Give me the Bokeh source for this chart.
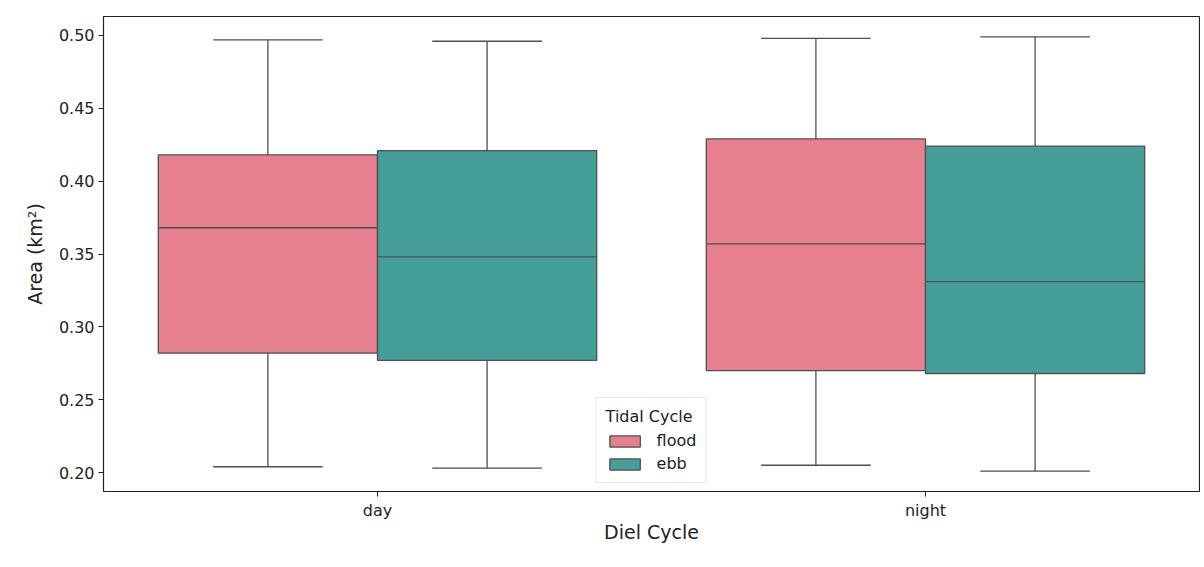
from bokeh.plotting import figure
from bokeh.models import FactorRange, ColumnDataSource, NumeralTickFormatter, FixedTicker, Legend, LegendItem
from bokeh.transform import dodge
from bokeh.embed import file_html
from bokeh.resources import INLINE

# ---- data ----
diel = ["day", "night"]
tides = ["flood", "ebb"]
colors = ["#e6808f", "#469e99"]

flood_low = [0.204, 0.205]
flood_q1 = [0.282, 0.270]
flood_med = [0.368, 0.357]
flood_q3 = [0.418, 0.429]
flood_high = [0.497, 0.498]

ebb_low = [0.203, 0.201]
ebb_q1 = [0.277, 0.268]
ebb_med = [0.348, 0.331]
ebb_q3 = [0.421, 0.424]
ebb_high = [0.496, 0.499]

y_ticks = [0.20, 0.25, 0.30, 0.35, 0.40, 0.45, 0.50]

FONT = "DejaVu Sans"
LINE = "#4f4f4f"

p = figure(x_range=FactorRange(*diel, range_padding=0), y_range=(0.187, 0.513),
           width=1200, height=559, output_backend="svg", toolbar_location=None,
           min_border_left=103, min_border_right=1, min_border_top=16, min_border_bottom=68)

p.xgrid.visible = False
p.ygrid.visible = False
p.outline_line_color = "#222222"
p.outline_line_width = 1.2
p.background_fill_color = "white"
p.border_fill_color = "white"

series = [
    ("flood", -0.2, colors[0], flood_low, flood_q1, flood_med, flood_q3, flood_high),
    ("ebb", 0.2, colors[1], ebb_low, ebb_q1, ebb_med, ebb_q3, ebb_high),
]

items = []
for name, off, col, lo, q1, med, q3, hi in series:
    src = ColumnDataSource(dict(diel=diel, lo=lo, q1=q1, med=med, q3=q3, hi=hi))
    # whiskers
    p.segment(x0=dodge("diel", off, range=p.x_range), x1=dodge("diel", off, range=p.x_range),
              y0="q3", y1="hi", source=src, line_color=LINE, line_width=1.3)
    p.segment(x0=dodge("diel", off, range=p.x_range), x1=dodge("diel", off, range=p.x_range),
              y0="lo", y1="q1", source=src, line_color=LINE, line_width=1.3)
    # caps
    p.segment(x0=dodge("diel", off - 0.1, range=p.x_range), x1=dodge("diel", off + 0.1, range=p.x_range),
              y0="hi", y1="hi", source=src, line_color=LINE, line_width=1.3)
    p.segment(x0=dodge("diel", off - 0.1, range=p.x_range), x1=dodge("diel", off + 0.1, range=p.x_range),
              y0="lo", y1="lo", source=src, line_color=LINE, line_width=1.3)
    # box
    r = p.vbar(x=dodge("diel", off, range=p.x_range), width=0.4, bottom="q1", top="q3",
               source=src, fill_color=col, line_color=LINE, line_width=1.3)
    # median
    p.segment(x0=dodge("diel", off - 0.2, range=p.x_range), x1=dodge("diel", off + 0.2, range=p.x_range),
              y0="med", y1="med", source=src, line_color=LINE, line_width=1.3)
    items.append(LegendItem(label=name, renderers=[r]))

p.yaxis.ticker = FixedTicker(ticks=y_ticks)
p.yaxis.formatter = NumeralTickFormatter(format="0.00")
for ax in (p.xaxis[0], p.yaxis[0]):
    ax.major_label_text_font = FONT
    ax.major_label_text_font_size = "16px"
    ax.major_label_text_color = "#222222"
    ax.axis_label_text_font = FONT
    ax.axis_label_text_font_size = "19px"
    ax.axis_label_text_font_style = "normal"
    ax.axis_label_text_color = "#222222"
    ax.axis_line_color = None
    ax.major_tick_line_color = "#222222"
    ax.major_tick_out = 5
    ax.major_tick_in = 0
    ax.minor_tick_line_color = None
    ax.major_label_standoff = 4

p.xaxis.axis_label = "Diel Cycle"
p.yaxis.axis_label = "Area (km²)"
p.xaxis.axis_label_standoff = -2
p.yaxis.axis_label_standoff = 10

legend = Legend(items=items, location="bottom_center", title="Tidal Cycle")
legend.title_text_font = FONT
legend.title_text_font_size = "16px"
legend.title_text_font_style = "normal"
legend.title_text_color = "#222222"
legend.label_text_font = FONT
legend.label_text_font_size = "16px"
legend.label_text_color = "#222222"
legend.glyph_width = 38
legend.glyph_height = 14
legend.label_height = 19
legend.label_standoff = 13
legend.spacing = 4
legend.padding = 9
legend.title_standoff = 5
legend.margin = 8
legend.border_line_color = "#d0d0d0"
legend.background_fill_alpha = 0.85
p.add_layout(legend, "center")

open("out.html", "w").write(file_html(p, INLINE))
